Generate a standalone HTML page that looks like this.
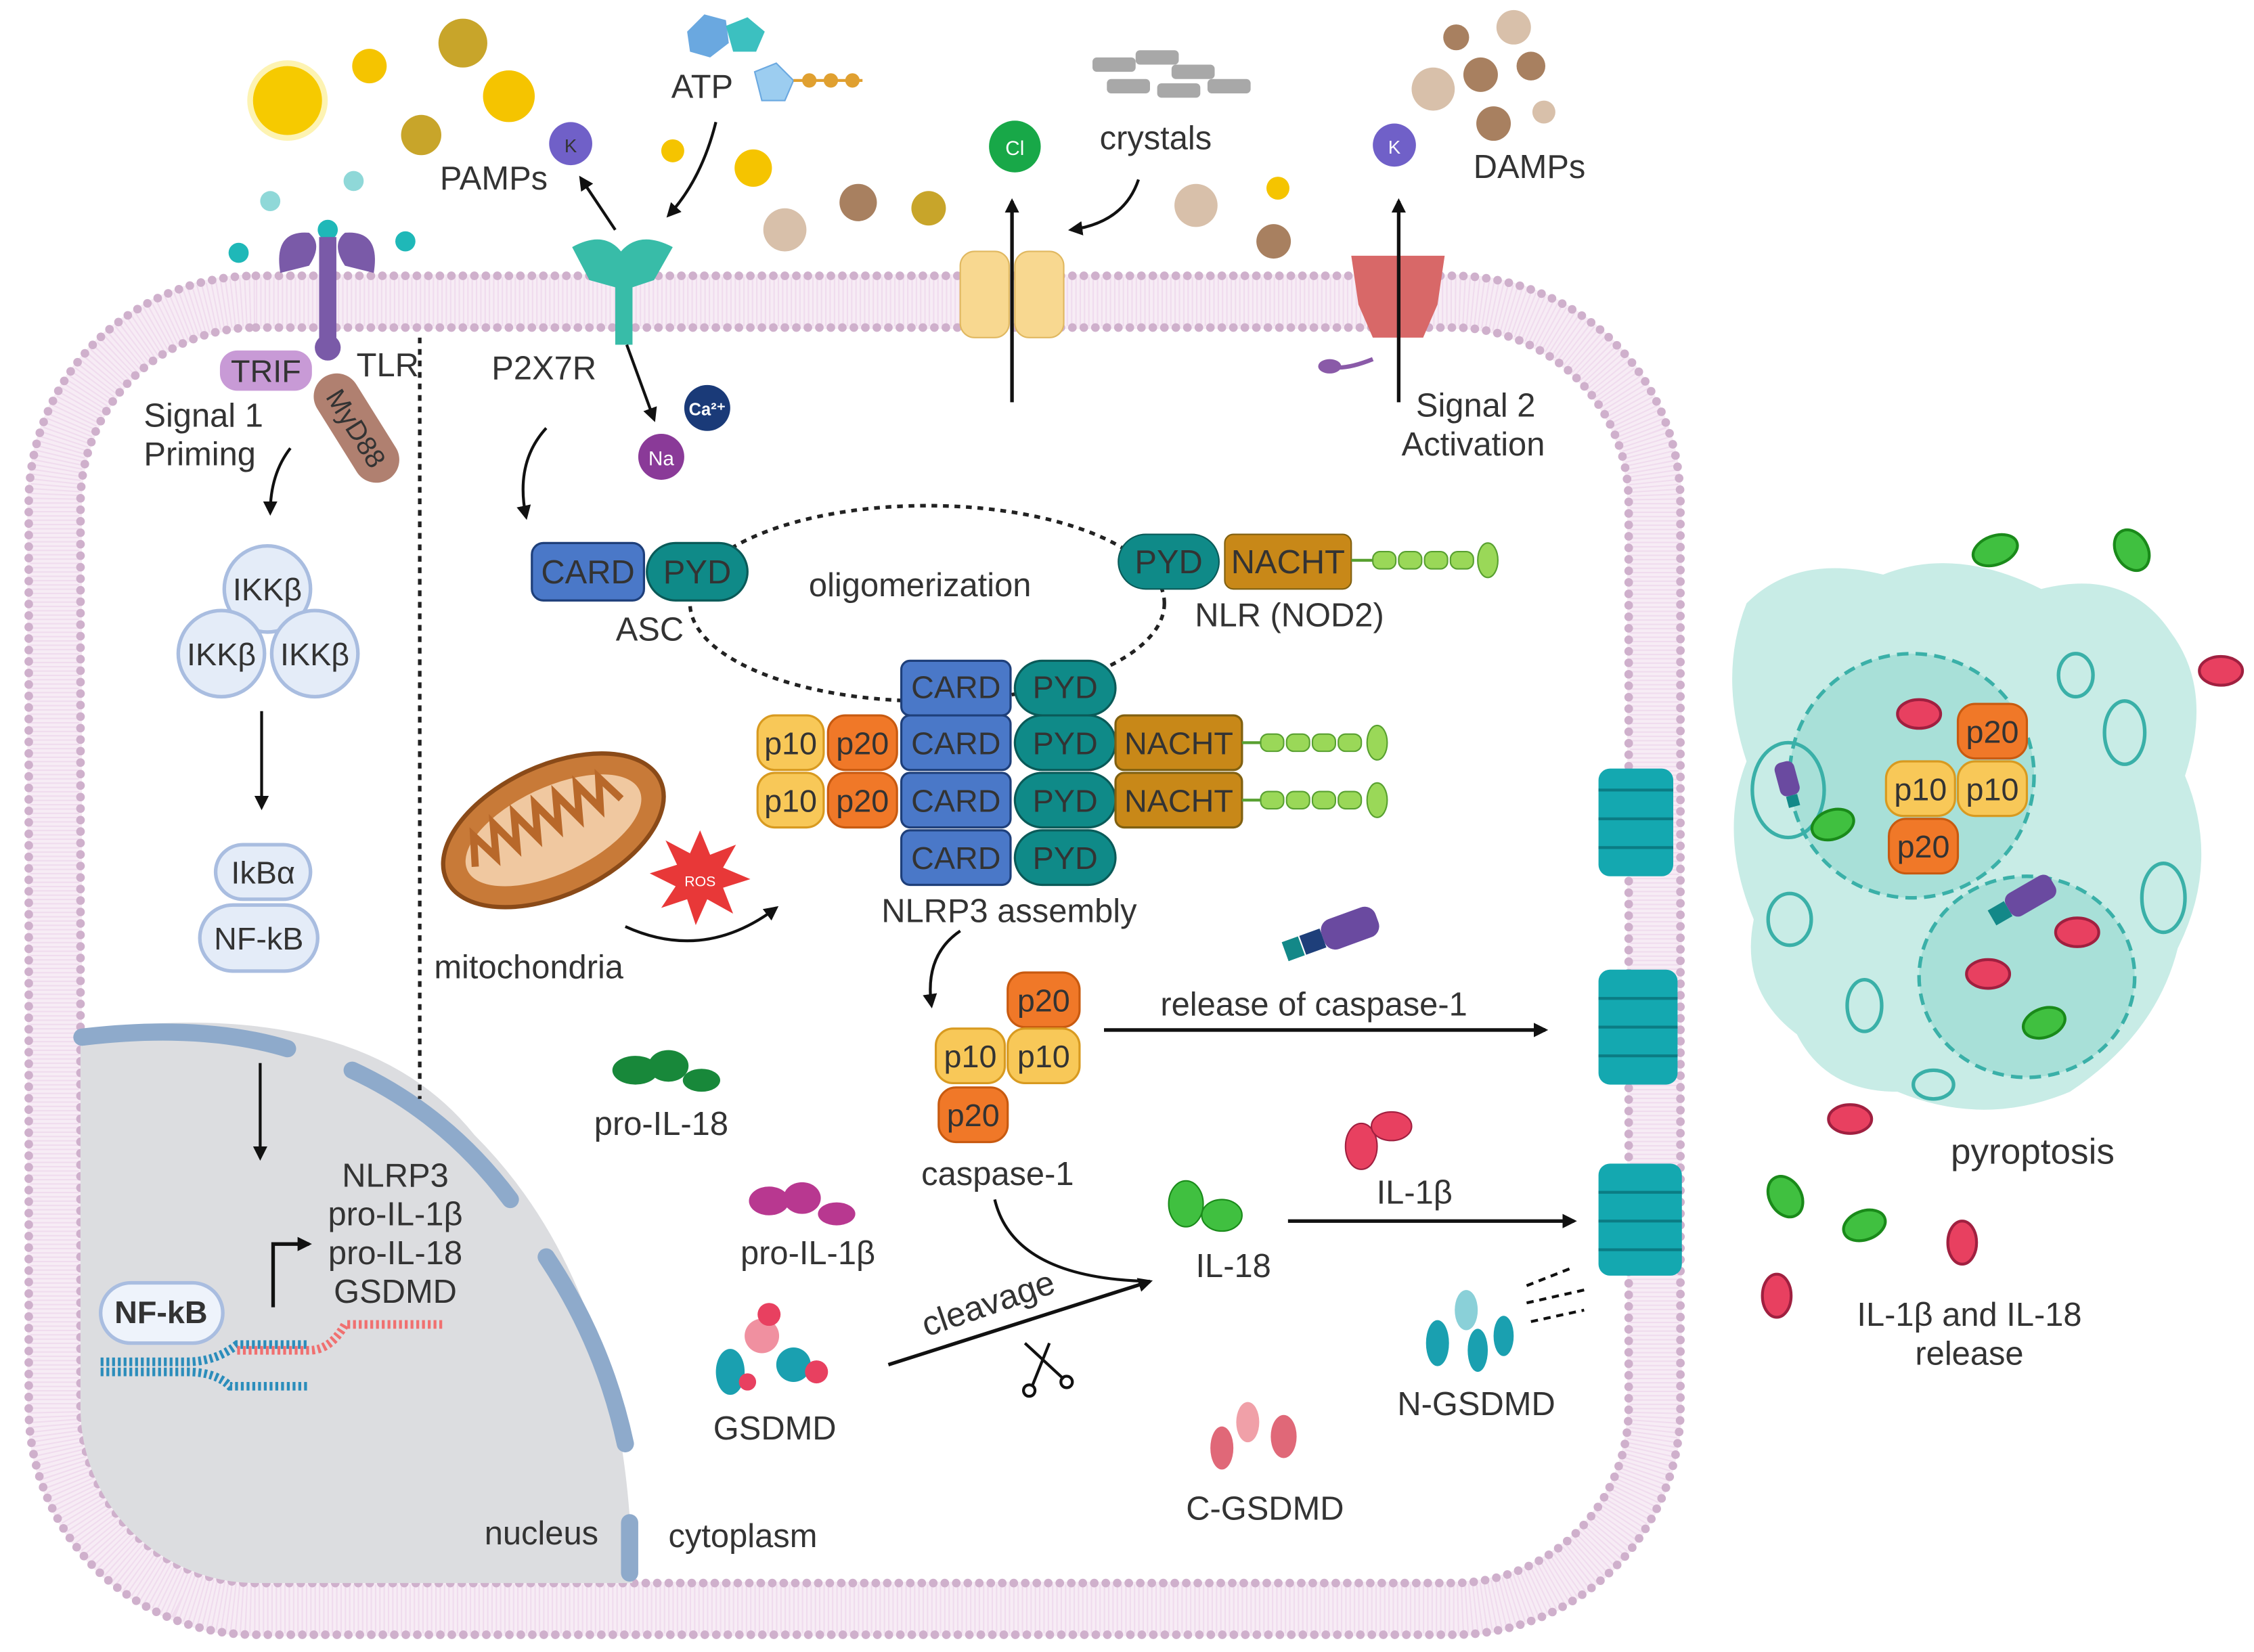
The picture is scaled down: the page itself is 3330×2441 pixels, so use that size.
<!DOCTYPE html>
<html><head><meta charset="utf-8"><style>
html,body{margin:0;padding:0;background:#fff}
svg{display:block}
text{font-family:"Liberation Sans",sans-serif;fill:#333}
</style></head><body>
<svg width="3330" height="2441" viewBox="0 0 1568 1150" preserveAspectRatio="none" xmlns="http://www.w3.org/2000/svg">
<defs>
<marker id="ah" markerWidth="10" markerHeight="10" refX="8" refY="5" orient="auto" markerUnits="userSpaceOnUse"><path d="M0,0 L10,5 L0,10 z" fill="#111"/></marker>
<clipPath id="cellin"><rect x="56" y="228" width="1077" height="874" rx="122"/></clipPath>
</defs>
<rect width="1568" height="1150" fill="#fff"/>

<!-- cell membrane -->
<rect x="38" y="210" width="1113" height="910" rx="140" fill="none" stroke="#f7ecf5" stroke-width="38"/>
<rect x="38" y="210" width="1113" height="910" rx="140" fill="none" stroke="#f0dcee" stroke-width="34" stroke-dasharray="1 2"/>
<rect x="20" y="192" width="1149" height="946" rx="158" fill="none" stroke="#cfb0cc" stroke-width="6" stroke-dasharray="0 8" stroke-linecap="round"/>
<rect x="56" y="228" width="1077" height="874" rx="122" fill="none" stroke="#cfb0cc" stroke-width="6" stroke-dasharray="0 8" stroke-linecap="round"/>

<!-- nucleus -->
<g clip-path="url(#cellin)">
<path d="M50,718 Q250,690 330,790 Q440,900 440,1110 L50,1110 Z" fill="#dcdde0"/>
</g>
<path d="M57,722 Q140,712 200,730" fill="none" stroke="#8eaacb" stroke-width="12" stroke-linecap="round"/>
<path d="M245,745 Q310,775 355,835" fill="none" stroke="#8eaacb" stroke-width="12" stroke-linecap="round"/>
<path d="M380,875 Q420,935 435,1005" fill="none" stroke="#8eaacb" stroke-width="12" stroke-linecap="round"/>
<path d="M438,1060 L438,1095" fill="none" stroke="#8eaacb" stroke-width="12" stroke-linecap="round"/>

<!-- dashed divider -->
<line x1="292" y1="235" x2="292" y2="765" stroke="#222" stroke-width="2.5" stroke-dasharray="4 4"/>

<!-- top particles -->
<circle cx="200" cy="70" r="24" fill="#f5c400"/><circle cx="200" cy="70" r="28" fill="#f8d800" opacity=".3"/>
<circle cx="257" cy="46" r="12" fill="#f5c400"/>
<circle cx="322" cy="30" r="17" fill="#c8a52a"/>
<circle cx="354" cy="67" r="18" fill="#f5c400"/>
<circle cx="293" cy="94" r="14" fill="#c8a52a"/>
<circle cx="468" cy="105" r="8" fill="#f5c400"/>
<circle cx="524" cy="117" r="13" fill="#f5c400"/>
<circle cx="546" cy="160" r="15" fill="#d8c0aa"/>
<circle cx="597" cy="141" r="13" fill="#a88060"/>
<circle cx="646" cy="145" r="12" fill="#c8a52a"/>
<circle cx="832" cy="143" r="15" fill="#d8c0aa"/>
<circle cx="889" cy="131" r="8" fill="#f5c400"/>
<circle cx="886" cy="168" r="12" fill="#a88060"/>
<circle cx="1013" cy="26" r="9" fill="#a88060"/><circle cx="1053" cy="19" r="12" fill="#d8c0aa"/>
<circle cx="997" cy="62" r="15" fill="#d8c0aa"/><circle cx="1030" cy="52" r="12" fill="#a88060"/>
<circle cx="1065" cy="46" r="10" fill="#a88060"/><circle cx="1039" cy="86" r="12" fill="#a88060"/>
<circle cx="1074" cy="78" r="8" fill="#d8c0aa"/>
<circle cx="188" cy="140" r="7" fill="#8fd8d8"/><circle cx="246" cy="126" r="7" fill="#8fd8d8"/>
<circle cx="166" cy="176" r="7" fill="#1fb8b8"/><circle cx="282" cy="168" r="7" fill="#1fb8b8"/><circle cx="228" cy="160" r="7" fill="#1fb8b8"/>

<!-- TLR -->
<path d="M195,190 Q190,160 215,162 Q225,170 215,185 Z M260,190 Q265,160 240,162 Q230,170 240,185 Z" fill="#7a5aa8"/>
<rect x="222" y="165" width="12" height="80" fill="#7a5aa8"/>
<circle cx="228" cy="242" r="9" fill="#7a5aa8"/>
<rect x="153" y="244" width="64" height="28" rx="12" fill="#c89ad6"/>
<text x="185" y="266" font-size="22" text-anchor="middle" fill="#442255">TRIF</text>
<text x="248" y="262" font-size="23">TLR</text>
<g transform="translate(248,298) rotate(58)"><rect x="-42" y="-16" width="84" height="32" rx="16" fill="#b08070"/><text x="0" y="7" font-size="19" text-anchor="middle" fill="#222">MyD88</text></g>
<text x="100" y="297" font-size="23" fill="#555">Signal 1</text>
<text x="100" y="324" font-size="23" fill="#555">Priming</text>
<path d="M202,312 Q188,330 188,357" fill="none" stroke="#111" stroke-width="2" marker-end="url(#ah)"/>

<!-- IKK -->
<g fill="#e4ecf8" stroke="#a9bde0" stroke-width="2.5">
<circle cx="186" cy="410" r="30"/><circle cx="154" cy="455" r="30"/><circle cx="219" cy="455" r="30"/>
<rect x="150" y="588" width="66" height="38" rx="19"/><rect x="139" y="630" width="82" height="46" rx="23"/>
</g>
<text x="186" y="418" font-size="22" text-anchor="middle">IKKβ</text>
<text x="154" y="463" font-size="22" text-anchor="middle">IKKβ</text>
<text x="219" y="463" font-size="22" text-anchor="middle">IKKβ</text>
<text x="183" y="615" font-size="22" text-anchor="middle">IkBα</text>
<text x="180" y="661" font-size="22" text-anchor="middle">NF-kB</text>
<line x1="182" y1="495" x2="182" y2="562" stroke="#111" stroke-width="2" marker-end="url(#ah)"/>
<line x1="181" y1="740" x2="181" y2="806" stroke="#111" stroke-width="2" marker-end="url(#ah)"/>

<!-- DNA -->
<rect x="70" y="893" width="85" height="42" rx="21" fill="#eef3fb" stroke="#a9bde0" stroke-width="2.5"/>
<text x="112" y="921" font-size="22" font-weight="bold" text-anchor="middle" fill="#111">NF-kB</text>
<path d="M70,955 L130,955 Q150,955 160,965 L215,965" fill="none" stroke="#2b8dbb" stroke-width="6" stroke-dasharray="2 2"/>
<path d="M70,948 L130,948 Q150,948 165,936 L215,936" fill="none" stroke="#2b8dbb" stroke-width="6" stroke-dasharray="2 2"/>
<path d="M165,940 L215,940 Q230,940 240,922 L308,922" fill="none" stroke="#f07070" stroke-width="6" stroke-dasharray="2 2"/>
<path d="M190,910 L190,866 L215,866" fill="none" stroke="#111" stroke-width="2.5" marker-end="url(#ah)"/>
<text x="275" y="826" font-size="23" text-anchor="middle">NLRP3</text>
<text x="275" y="853" font-size="23" text-anchor="middle">pro-IL-1β</text>
<text x="275" y="880" font-size="23" text-anchor="middle">pro-IL-18</text>
<text x="275" y="907" font-size="23" text-anchor="middle">GSDMD</text>
<text x="337" y="1075" font-size="23">nucleus</text>
<text x="465" y="1077" font-size="23">cytoplasm</text>

<!-- P2X7R -->
<path d="M398,172 Q420,160 432,175 Q445,160 468,172 L455,195 L440,200 L440,240 L428,240 L428,200 L410,195 Z" fill="#38bca8"/>
<text x="342" y="264" font-size="23">P2X7R</text>
<text x="306" y="132" font-size="23">PAMPs</text>
<circle cx="397" cy="100" r="15" fill="#7060c8"/><text x="397" y="106" font-size="13" fill="#fff" text-anchor="middle">K</text>
<line x1="428" y1="160" x2="404" y2="124" stroke="#111" stroke-width="2" marker-end="url(#ah)"/>
<path d="M498,85 Q488,125 465,150" fill="none" stroke="#111" stroke-width="2" marker-end="url(#ah)"/>
<text x="467" y="68" font-size="23">ATP</text>
<polygon points="478,22 490,10 505,14 507,30 494,40 480,36" fill="#6aa8e0"/>
<polygon points="505,18 520,12 532,22 526,36 510,36" fill="#3cc0c0"/>
<polygon points="525,50 540,44 552,56 546,70 530,70" fill="#9ccdf0" stroke="#6aa8e0"/>
<line x1="552" y1="56" x2="600" y2="56" stroke="#e0a030" stroke-width="2"/>
<circle cx="563" cy="56" r="5" fill="#e0a030"/><circle cx="578" cy="56" r="5" fill="#e0a030"/><circle cx="593" cy="56" r="5" fill="#e0a030"/>
<line x1="436" y1="240" x2="455" y2="292" stroke="#111" stroke-width="2" marker-end="url(#ah)"/>
<circle cx="492" cy="284" r="16" fill="#1a3a78"/><text x="492" y="289" font-size="12" font-weight="bold" style="fill:#fff" text-anchor="middle">Ca²⁺</text>
<circle cx="460" cy="318" r="16" fill="#8a3a98"/><text x="460" y="324" font-size="14" style="fill:#fff" text-anchor="middle">Na</text>
<path d="M380,298 Q358,322 366,360" fill="none" stroke="#111" stroke-width="2" marker-end="url(#ah)"/>

<!-- Cl channel -->
<rect x="668" y="175" width="34" height="60" rx="10" fill="#f8d890" stroke="#e0b860"/>
<rect x="706" y="175" width="34" height="60" rx="10" fill="#f8d890" stroke="#e0b860"/>
<line x1="704" y1="280" x2="704" y2="140" stroke="#111" stroke-width="2.5" marker-end="url(#ah)"/>
<circle cx="706" cy="102" r="18" fill="#18a848"/><text x="706" y="108" font-size="14" style="fill:#fff" text-anchor="middle">Cl</text>
<g fill="#a8a8a8"><rect x="760" y="40" width="30" height="10" rx="3"/><rect x="790" y="35" width="30" height="10" rx="3"/><rect x="815" y="45" width="30" height="10" rx="3"/><rect x="770" y="55" width="30" height="10" rx="3"/><rect x="805" y="58" width="30" height="10" rx="3"/><rect x="840" y="55" width="30" height="10" rx="3"/></g>
<text x="765" y="104" font-size="23">crystals</text>
<path d="M792,125 Q782,155 745,160" fill="none" stroke="#111" stroke-width="2" marker-end="url(#ah)"/>

<!-- K channel -->
<path d="M940,178 L1005,178 L1000,212 L990,235 L955,235 L945,212 Z" fill="#d86868"/>
<path d="M955,250 Q935,258 925,255" fill="none" stroke="#8a5aa8" stroke-width="3"/><ellipse cx="925" cy="255" rx="8" ry="5" fill="#8a5aa8"/>
<line x1="973" y1="280" x2="973" y2="140" stroke="#111" stroke-width="2.5" marker-end="url(#ah)"/>
<circle cx="970" cy="101" r="15" fill="#7060c8"/><text x="970" y="107" font-size="13" style="fill:#fff" text-anchor="middle">K</text>
<text x="1025" y="124" font-size="23">DAMPs</text>
<text x="985" y="290" font-size="23" fill="#444">Signal 2</text>
<text x="975" y="317" font-size="23" fill="#444">Activation</text>

<!-- oligomerization -->
<ellipse cx="645" cy="420" rx="165" ry="68" fill="none" stroke="#222" stroke-width="2.5" stroke-dasharray="4 4"/>
<text x="640" y="415" font-size="23" text-anchor="middle">oligomerization</text>
<g stroke="#1e3f7a" stroke-width="1.5">
<rect x="370" y="378" width="78" height="40" rx="8" fill="#4a78c8"/>
<rect x="450" y="378" width="70" height="40" rx="20" fill="#0f8a88" stroke="#0a5a58"/>
</g>
<text x="409" y="406" font-size="23" text-anchor="middle" fill="#111">CARD</text>
<text x="485" y="406" font-size="23" text-anchor="middle" fill="#111">PYD</text>
<text x="452" y="446" font-size="23" text-anchor="middle">ASC</text>
<rect x="778" y="372" width="70" height="38" rx="19" fill="#0f8a88" stroke="#0a5a58"/>
<rect x="852" y="372" width="88" height="38" rx="6" fill="#c88818" stroke="#806010"/>
<text x="813" y="399" font-size="23" text-anchor="middle" fill="#111">PYD</text>
<text x="896" y="399" font-size="23" text-anchor="middle" fill="#111">NACHT</text>
<g fill="#9ad858" stroke="#58a030"><rect x="955" y="384" width="16" height="12" rx="5"/><rect x="973" y="384" width="16" height="12" rx="5"/><rect x="991" y="384" width="16" height="12" rx="5"/><rect x="1009" y="384" width="16" height="12" rx="5"/><ellipse cx="1035" cy="390" rx="7" ry="12"/></g>
<text x="897" y="436" font-size="23" text-anchor="middle">NLR (NOD2)</text>

<!-- NLRP3 assembly -->
<g stroke-width="1.5">
<rect x="627" y="460" width="76" height="38" rx="6" fill="#4a78c8" stroke="#1e3f7a"/><rect x="706" y="460" width="70" height="38" rx="19" fill="#0f8a88" stroke="#0a5a58"/>
<rect x="527" y="498" width="46" height="38" rx="12" fill="#f8c858" stroke="#d89a20"/><rect x="576" y="498" width="48" height="38" rx="12" fill="#f07828" stroke="#c85a10"/>
<rect x="627" y="498" width="76" height="38" rx="6" fill="#4a78c8" stroke="#1e3f7a"/><rect x="706" y="498" width="70" height="38" rx="19" fill="#0f8a88" stroke="#0a5a58"/>
<rect x="776" y="498" width="88" height="38" rx="6" fill="#c88818" stroke="#806010"/>
<rect x="527" y="538" width="46" height="38" rx="12" fill="#f8c858" stroke="#d89a20"/><rect x="576" y="538" width="48" height="38" rx="12" fill="#f07828" stroke="#c85a10"/>
<rect x="627" y="538" width="76" height="38" rx="6" fill="#4a78c8" stroke="#1e3f7a"/><rect x="706" y="538" width="70" height="38" rx="19" fill="#0f8a88" stroke="#0a5a58"/>
<rect x="776" y="538" width="88" height="38" rx="6" fill="#c88818" stroke="#806010"/>
<rect x="627" y="578" width="76" height="38" rx="6" fill="#4a78c8" stroke="#1e3f7a"/><rect x="706" y="578" width="70" height="38" rx="19" fill="#0f8a88" stroke="#0a5a58"/>
</g>
<g font-size="22" text-anchor="middle" fill="#111">
<text x="665" y="486">CARD</text><text x="741" y="486">PYD</text>
<text x="550" y="525">p10</text><text x="600" y="525">p20</text><text x="665" y="525">CARD</text><text x="741" y="525">PYD</text><text x="820" y="525">NACHT</text>
<text x="550" y="565">p10</text><text x="600" y="565">p20</text><text x="665" y="565">CARD</text><text x="741" y="565">PYD</text><text x="820" y="565">NACHT</text>
<text x="665" y="605">CARD</text><text x="741" y="605">PYD</text>
</g>
<g fill="#9ad858" stroke="#58a030"><rect x="877" y="511" width="16" height="12" rx="5"/><rect x="895" y="511" width="16" height="12" rx="5"/><rect x="913" y="511" width="16" height="12" rx="5"/><rect x="931" y="511" width="16" height="12" rx="5"/><ellipse cx="958" cy="517" rx="7" ry="12"/>
<rect x="877" y="551" width="16" height="12" rx="5"/><rect x="895" y="551" width="16" height="12" rx="5"/><rect x="913" y="551" width="16" height="12" rx="5"/><rect x="931" y="551" width="16" height="12" rx="5"/><ellipse cx="958" cy="557" rx="7" ry="12"/></g>
<line x1="864" y1="517" x2="877" y2="517" stroke="#58a030" stroke-width="2"/><line x1="864" y1="557" x2="877" y2="557" stroke="#58a030" stroke-width="2"/><line x1="940" y1="390" x2="955" y2="390" stroke="#58a030" stroke-width="2"/>
<text x="702" y="642" font-size="23" text-anchor="middle">NLRP3 assembly</text>

<!-- mitochondria -->
<g transform="translate(385,578) rotate(-25)"><ellipse rx="82" ry="45" fill="#c87a38" stroke="#8a4a18" stroke-width="3"/><ellipse rx="66" ry="30" fill="#f0c8a0"/>
<path d="M-60,0 l8,-20 l8,20 l8,-22 l8,22 l8,-22 l8,22 l8,-22 l8,22 l8,-22 l8,22 l8,-22 l8,22 l8,-20 l8,20" fill="none" stroke="#b8682a" stroke-width="5"/></g>
<polygon points="487,578 494,595 512,588 503,604 522,612 503,618 510,636 492,626 484,644 478,626 460,632 470,617 452,608 471,602 463,585 480,594" fill="#e83838"/>
<text x="487" y="617" font-size="10" style="fill:#fff" text-anchor="middle">ROS</text>
<path d="M435,645 Q490,670 540,632" fill="none" stroke="#111" stroke-width="2" marker-end="url(#ah)"/>
<text x="302" y="681" font-size="23">mitochondria</text>
<path d="M668,648 Q643,665 648,700" fill="none" stroke="#111" stroke-width="2" marker-end="url(#ah)"/>

<!-- caspase-1 -->
<g stroke-width="1.5">
<rect x="701" y="677" width="50" height="38" rx="12" fill="#f07828" stroke="#c85a10"/>
<rect x="651" y="716" width="48" height="38" rx="12" fill="#f8c858" stroke="#d89a20"/>
<rect x="701" y="716" width="50" height="38" rx="12" fill="#f8c858" stroke="#d89a20"/>
<rect x="653" y="757" width="48" height="38" rx="12" fill="#f07828" stroke="#c85a10"/>
</g>
<g font-size="22" text-anchor="middle" fill="#111"><text x="726" y="704">p20</text><text x="675" y="743">p10</text><text x="726" y="743">p10</text><text x="677" y="784">p20</text></g>
<text x="694" y="825" font-size="23" text-anchor="middle">caspase-1</text>
<line x1="768" y1="717" x2="1075" y2="717" stroke="#111" stroke-width="2.5" marker-end="url(#ah)"/>
<text x="914" y="707" font-size="23" text-anchor="middle">release of caspase-1</text>
<g transform="translate(920,652) rotate(-20)"><rect x="0" y="-10" width="40" height="22" rx="8" fill="#6a4aa0"/><rect x="-15" y="-6" width="15" height="14" fill="#1e3f7a"/><rect x="-28" y="-6" width="12" height="14" fill="#138888"/></g>

<!-- pro-IL-18 / IL-1β -->
<ellipse cx="442" cy="745" rx="16" ry="10" fill="#18883a"/><ellipse cx="465" cy="742" rx="14" ry="11" fill="#18883a"/><ellipse cx="488" cy="752" rx="13" ry="8" fill="#18883a"/>
<text x="460" y="790" font-size="23" text-anchor="middle">pro-IL-18</text>
<ellipse cx="535" cy="836" rx="14" ry="10" fill="#b83890"/><ellipse cx="558" cy="834" rx="13" ry="11" fill="#b83890"/><ellipse cx="582" cy="845" rx="13" ry="8" fill="#b83890"/>
<text x="562" y="880" font-size="23" text-anchor="middle">pro-IL-1β</text>
<g><ellipse cx="508" cy="955" rx="10" ry="16" fill="#1aa0b0"/><ellipse cx="530" cy="930" rx="12" ry="12" fill="#f090a0"/><ellipse cx="535" cy="915" rx="8" ry="8" fill="#e84060"/><ellipse cx="552" cy="950" rx="12" ry="12" fill="#1aa0b0"/><ellipse cx="568" cy="955" rx="8" ry="8" fill="#e84060"/><ellipse cx="520" cy="962" rx="6" ry="6" fill="#e84060"/></g>
<text x="539" y="1002" font-size="23" text-anchor="middle">GSDMD</text>
<line x1="618" y1="950" x2="800" y2="892" stroke="#111" stroke-width="2.5" marker-end="url(#ah)"/>
<path d="M692,835 Q705,890 800,892" fill="none" stroke="#111" stroke-width="2"/>
<text x="690" y="915" font-size="24" text-anchor="middle" transform="rotate(-19 690 915)">cleavage</text>
<g stroke="#111" stroke-width="2" fill="none"><line x1="713" y1="935" x2="740" y2="960"/><line x1="730" y1="935" x2="718" y2="965"/><circle cx="742" cy="962" r="4"/><circle cx="716" cy="968" r="4"/></g>
<ellipse cx="825" cy="838" rx="12" ry="16" fill="#40c040" stroke="#1a8a1a"/><ellipse cx="850" cy="846" rx="14" ry="11" fill="#40c040" stroke="#1a8a1a"/>
<text x="858" y="889" font-size="23" text-anchor="middle">IL-18</text>
<ellipse cx="947" cy="798" rx="11" ry="16" fill="#e84060" stroke="#a02040"/><ellipse cx="968" cy="784" rx="14" ry="10" fill="#e84060" stroke="#a02040"/>
<text x="984" y="838" font-size="23" text-anchor="middle">IL-1β</text>
<line x1="896" y1="850" x2="1095" y2="850" stroke="#111" stroke-width="2.5" marker-end="url(#ah)"/>
<g fill="#1aa0b0"><ellipse cx="1000" cy="935" rx="8" ry="16"/><ellipse cx="1020" cy="912" rx="8" ry="14" fill="#8ad0d8"/><ellipse cx="1028" cy="940" rx="7" ry="15"/><ellipse cx="1046" cy="930" rx="7" ry="14"/></g>
<g stroke="#111" stroke-width="2" stroke-dasharray="5 4"><line x1="1062" y1="895" x2="1095" y2="882"/><line x1="1062" y1="907" x2="1102" y2="898"/><line x1="1065" y1="920" x2="1102" y2="912"/></g>
<text x="1027" y="985" font-size="23" text-anchor="middle">N-GSDMD</text>
<g fill="#e06878"><ellipse cx="850" cy="1008" rx="8" ry="15"/><ellipse cx="868" cy="990" rx="8" ry="14" fill="#f0a0a8"/><ellipse cx="893" cy="1000" rx="9" ry="15"/></g>
<text x="880" y="1058" font-size="23" text-anchor="middle">C-GSDMD</text>

<!-- pores -->
<g fill="#14a8b0">
<rect x="1112" y="535" width="52" height="75" rx="8"/><rect x="1112" y="675" width="55" height="80" rx="8"/><rect x="1112" y="810" width="58" height="78" rx="8"/>
</g>
<g stroke="#0b7c84" stroke-width="2"><line x1="1112" y1="550" x2="1164" y2="550"/><line x1="1112" y1="570" x2="1164" y2="570"/><line x1="1112" y1="590" x2="1164" y2="590"/>
<line x1="1112" y1="695" x2="1167" y2="695"/><line x1="1112" y1="715" x2="1167" y2="715"/><line x1="1112" y1="735" x2="1167" y2="735"/>
<line x1="1112" y1="830" x2="1170" y2="830"/><line x1="1112" y1="850" x2="1170" y2="850"/><line x1="1112" y1="870" x2="1170" y2="870"/></g>

<!-- pyroptotic cell -->
<path d="M1215,420 Q1250,385 1310,400 Q1360,380 1420,410 Q1480,395 1510,440 Q1540,480 1520,540 Q1545,600 1515,660 Q1500,720 1440,760 Q1380,785 1320,760 Q1270,760 1250,720 Q1210,690 1220,640 Q1195,580 1215,530 Q1195,470 1215,420 Z" fill="#c8ece6"/>
<ellipse cx="1330" cy="540" rx="85" ry="85" fill="#a8e0d8" stroke="#3ab0a8" stroke-width="2.5" stroke-dasharray="8 5"/>
<ellipse cx="1410" cy="680" rx="75" ry="70" fill="#a8e0d8" stroke="#3ab0a8" stroke-width="2.5" stroke-dasharray="8 5"/>
<g fill="none" stroke="#3ab0a8" stroke-width="2.5"><ellipse cx="1244" cy="550" rx="25" ry="33"/><ellipse cx="1478" cy="510" rx="14" ry="22"/><ellipse cx="1505" cy="625" rx="15" ry="24"/><ellipse cx="1245" cy="640" rx="15" ry="18"/><ellipse cx="1297" cy="700" rx="12" ry="18"/><ellipse cx="1444" cy="470" rx="12" ry="15"/><ellipse cx="1345" cy="755" rx="14" ry="10"/></g>
<g stroke-width="1.5">
<rect x="1362" y="490" width="48" height="38" rx="12" fill="#f07828" stroke="#c85a10"/>
<rect x="1312" y="530" width="48" height="38" rx="12" fill="#f8c858" stroke="#d89a20"/>
<rect x="1362" y="530" width="48" height="38" rx="12" fill="#f8c858" stroke="#d89a20"/>
<rect x="1314" y="570" width="48" height="38" rx="12" fill="#f07828" stroke="#c85a10"/>
</g>
<g font-size="22" text-anchor="middle" fill="#111"><text x="1386" y="517">p20</text><text x="1336" y="557">p10</text><text x="1386" y="557">p10</text><text x="1338" y="597">p20</text></g>
<g transform="translate(1244,545) rotate(75)"><rect x="-15" y="-7" width="24" height="14" rx="5" fill="#6a4aa0"/><rect x="9" y="-4" width="8" height="8" fill="#138888"/></g>
<g transform="translate(1410,625) rotate(-30)"><rect x="-15" y="-9" width="36" height="18" rx="6" fill="#6a4aa0"/><rect x="-28" y="-6" width="13" height="12" fill="#138888"/></g>
<g stroke-width="2">
<ellipse cx="1388" cy="383" rx="16" ry="10" fill="#40c040" stroke="#1a8a1a" transform="rotate(-20 1388 383)"/>
<ellipse cx="1483" cy="383" rx="11" ry="15" fill="#40c040" stroke="#1a8a1a" transform="rotate(-30 1483 383)"/>
<ellipse cx="1545" cy="467" rx="15" ry="10" fill="#e84060" stroke="#a02040"/>
<ellipse cx="1335" cy="497" rx="15" ry="10" fill="#e84060" stroke="#a02040"/>
<ellipse cx="1275" cy="574" rx="15" ry="10" fill="#40c040" stroke="#1a8a1a" transform="rotate(-20 1275 574)"/>
<ellipse cx="1445" cy="649" rx="15" ry="10" fill="#e84060" stroke="#a02040"/>
<ellipse cx="1383" cy="678" rx="15" ry="10" fill="#e84060" stroke="#a02040"/>
<ellipse cx="1422" cy="712" rx="15" ry="10" fill="#40c040" stroke="#1a8a1a" transform="rotate(-20 1422 712)"/>
<ellipse cx="1287" cy="779" rx="15" ry="10" fill="#e84060" stroke="#a02040"/>
<ellipse cx="1242" cy="833" rx="11" ry="15" fill="#40c040" stroke="#1a8a1a" transform="rotate(-30 1242 833)"/>
<ellipse cx="1297" cy="853" rx="15" ry="10" fill="#40c040" stroke="#1a8a1a" transform="rotate(-20 1297 853)"/>
<ellipse cx="1365" cy="865" rx="10" ry="15" fill="#e84060" stroke="#a02040"/>
<ellipse cx="1236" cy="902" rx="10" ry="15" fill="#e84060" stroke="#a02040"/>
</g>
<text x="1414" y="810" font-size="25" text-anchor="middle">pyroptosis</text>
<text x="1370" y="923" font-size="23" text-anchor="middle">IL-1β and IL-18</text>
<text x="1370" y="950" font-size="23" text-anchor="middle">release</text>
</svg>
</body></html>
